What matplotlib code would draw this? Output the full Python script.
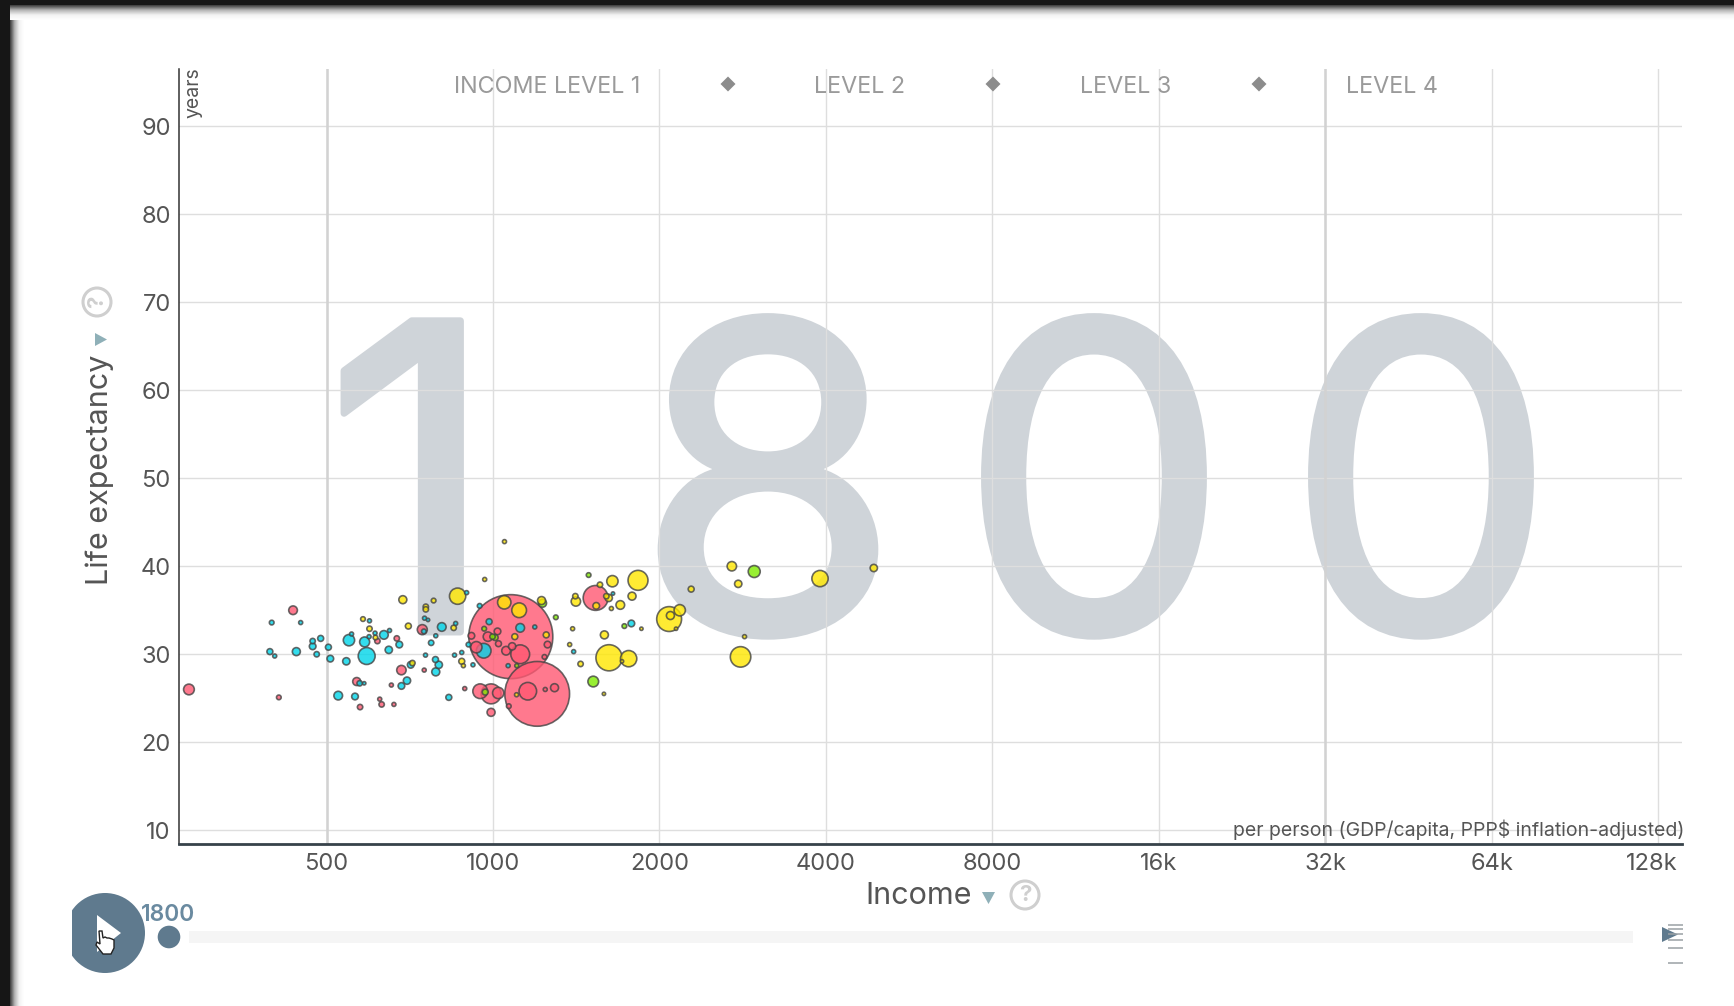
import numpy as np
import matplotlib
matplotlib.use('Agg')
import matplotlib.pyplot as plt
import matplotlib.patheffects as pe
from matplotlib.patches import Circle, Polygon, Rectangle
from matplotlib.ticker import FixedLocator, FixedFormatter, NullLocator
from matplotlib.transforms import ScaledTranslation

plt.rcParams['font.family'] = ['Inter', 'DejaVu Sans']

# ---------- data ----------
year = "1800"
x_ticks = [500, 1000, 2000, 4000, 8000, 16000, 32000, 64000, 128000]
x_labels = ['500', '1000', '2000', '4000', '8000', '16k', '32k', '64k', '128k']
y_ticks = [10, 20, 30, 40, 50, 60, 70, 80, 90]
level_labels = ['INCOME LEVEL 1', 'LEVEL 2', 'LEVEL 3', 'LEVEL 4']

red_income = [282,435,410,745,670,618,683,567,575,629,662,624,655,751,889,1077,1202,933,1120,1056,1083,1023,1019,979,914,1255,1239,948,992,1022,992,1156,1292,1243,1068,1533]
red_life = [26.0,35.0,25.1,32.8,31.8,31.5,28.2,26.9,24.0,24.3,24.3,24.9,26.5,28.2,26.1,32.0,25.5,30.8,30.0,30.4,30.9,31.2,32.6,32.0,32.1,31.1,29.7,25.8,25.5,25.6,23.4,25.8,26.2,26.0,24.1,36.4]
red_pop = [5.2,3.4,0.99,4.5,1.3,1.3,4,2.9,1.3,1.3,0.73,0.73,0.73,0.73,0.73,320,190,5.8,16,3.4,2.4,1.6,2,4,2,2,0.99,9.8,18,5.8,2.9,14,2.9,0.73,0.99,28]

yellow_income = [863,687,781,756,756,582,598,703,849,1048,1115,1224,1095,1248,878,884,613,715,1103,1412,1409,1644,1829,1561,1603,1619,1537,1784,1699,1590,1621,1759,1440,2082,2176,2093,2282,2703,2776,2803,3902,4881,1049,966,1637,1393,1376,1855,2143,2850,1587,1711]
yellow_life = [36.6,36.2,36.1,35.4,35.1,34.0,32.9,33.2,33.0,35.9,35.0,36.1,32.0,32.2,29.2,28.7,31.9,29.0,25.4,36.0,36.6,38.3,38.4,37.9,36.6,36.4,35.5,36.6,35.6,32.2,29.6,29.5,28.9,34.0,35.0,34.4,37.4,40.0,38.0,29.7,38.6,39.8,42.8,38.5,35.2,32.9,31.1,32.9,32.9,32.0,25.5,29.2]
yellow_pop = [12,2.9,0.99,1.3,1.3,0.99,1.3,1.6,1.3,8.1,9.8,2.9,1.6,1.6,1.6,0.73,0.99,1.3,0.73,4,1.3,5.8,18,1.3,1.3,2.4,2,2.9,3.4,2.9,31,12,1.3,28,5.8,2.9,1.6,4,2.4,19,12,2.4,0.73,0.73,0.73,0.73,0.73,0.5,0.5,0.73,0.5,0.5]

green_income = [2967,1518,1728,1489,1299,998,1009,964,1104,968,1229]
green_life = [39.4,26.9,33.2,39.0,34.2,32.0,31.9,32.9,28.7,25.7,35.8]
green_pop = [6.5,5.2,0.99,0.99,0.99,1.3,1.6,0.99,0.73,1.6,2.9]

cyan_income = [398,449,395,403,441,472,472,488,480,504,508,543,549,586,591,648,635,650,597,612,555,598,677,773,788,808,752,763,750,787,798,788,710,699,683,574,585,525,563,832,852,878,920,755,903,946,896,856,962,984,1120,1065,1190,1779,1648,1399]
cyan_life = [33.6,33.6,30.3,29.8,30.3,31.5,30.9,31.8,30.0,30.8,29.5,29.2,31.6,31.4,29.8,30.5,32.2,32.7,32.0,32.4,32.3,33.8,31.1,31.3,32.1,33.1,34.1,33.9,32.6,29.4,28.8,28.0,28.8,27.0,26.4,26.7,26.7,25.3,25.2,25.1,29.9,30.2,28.8,29.9,31.1,35.5,37.0,33.5,30.4,33.7,33.0,28.7,33.1,33.5,36.9,30.3]
cyan_pop = [0.99,0.73,1.6,0.73,2.9,1.3,2,1.6,1.3,1.6,2,2.4,5.8,4.5,13,2.4,3.4,0.73,0.73,0.73,0.73,0.73,2,1.3,0.73,3.4,0.73,0.5,0.99,1.6,2.4,2.9,2,2.4,2,1.3,0.5,3.4,2,1.6,0.73,0.73,0.73,0.73,0.99,0.99,0.73,0.73,9.8,1.6,3.4,0.73,0.73,2,0.5,0.73]

# ---------- figure ----------
W, H = 1734, 1006
fig = plt.figure(figsize=(W / 100, H / 100), dpi=100, facecolor='white')

pg = fig.add_axes([0, 0, 1, 1], zorder=5)
pg.set_xlim(0, W); pg.set_ylim(H, 0); pg.axis('off'); pg.patch.set_alpha(0)

L, R, T, B = 178.5, 1682, 69, 844
ax = fig.add_axes([L / W, 1 - B / H, (R - L) / W, (B - T) / H], zorder=2)
ax.set_xscale('log', base=2)
ax.set_xlim(270, 141200)
ax.set_ylim(8.44, 96.5)
ax.patch.set_alpha(0)
ax.xaxis.set_major_locator(FixedLocator(x_ticks))
ax.xaxis.set_major_formatter(FixedFormatter(x_labels))
ax.xaxis.set_minor_locator(NullLocator())
ax.set_yticks(y_ticks)
ax.tick_params(length=0, labelsize=17, labelcolor='#555555')
ax.tick_params(axis='x', pad=6.5)
ax.tick_params(axis='y', pad=5.6)
for s in ('top', 'right'):
    ax.spines[s].set_visible(False)
ax.spines['left'].set_color('#333333'); ax.spines['left'].set_linewidth(1.1)
ax.spines['bottom'].set_color('#37424a'); ax.spines['bottom'].set_linewidth(2)
ax.set_axisbelow(True)
ax.grid(True, color='#dedede', lw=1.0)
for v in (500, 32000):
    ax.axvline(v, color='#d2d2d2', lw=1.8, zorder=0.6)
labs = ax.get_xticklabels()
labs[-1].set_ha('right')
labs[-1].set_transform(labs[-1].get_transform() + ScaledTranslation(13.5 / 72, 0, fig.dpi_scale_trans))

# big year
for ch, px in zip(year, [411, 768, 1094, 1421]):
    fig.text(px / W, 1 - 476 / H, ch, fontsize=308, color='#cfd4d9', ha='center',
             va='center_baseline', family='Inter', zorder=1,
             path_effects=[pe.withStroke(linewidth=5, foreground='#cfd4d9', capstyle='round', joinstyle='round')])

# bubbles
def radius_pts(pop):
    return 42 * np.sqrt(np.asarray(pop, float) / 320) * 0.72

groups = [(red_income, red_life, red_pop, '#ff5872'),
          (yellow_income, yellow_life, yellow_pop, '#ffe700'),
          (green_income, green_life, green_pop, '#7feb00'),
          (cyan_income, cyan_life, cyan_pop, '#00d5e9')]
xs = np.concatenate([g[0] for g in groups])
ys = np.concatenate([g[1] for g in groups])
ps = np.concatenate([g[2] for g in groups], dtype=float)
cs = sum(([g[3]] * len(g[0]) for g in groups), [])
order = np.argsort(-ps)
ax.scatter(xs[order], ys[order], s=(2 * radius_pts(ps[order])) ** 2,
           c=[cs[i] for i in order], alpha=0.8, edgecolors='#444444',
           linewidths=1.2, zorder=3)

# axis texts
tc = '#555555'
pg.text(193, 93, 'years', rotation=90, ha='center', va='center', fontsize=14, color=tc)
pg.text(1684, 830, 'per person (GDP/capita, PPP$ inflation-adjusted)', ha='right', va='center',
        fontsize=14, color=tc)
pg.text(919, 896, 'Income', ha='center', va='center', fontsize=22, color=tc)
pg.add_patch(Polygon([(982, 892), (995, 892), (988.5, 904)], color='#8fb0b8', lw=0))
pg.add_patch(Circle((1025, 895), 14, fill=False, ec='#cfcfcf', lw=2.2))
pg.text(1025, 895, '?', ha='center', va='center', fontsize=16, color='#cfcfcf', weight='bold')
pg.text(100, 470, 'Life expectancy', rotation=90, ha='center', va='center', fontsize=22, color=tc)
pg.add_patch(Polygon([(95, 333), (95, 346), (107, 339.5)], color='#8fb0b8', lw=0))
pg.add_patch(Circle((97, 302), 14, fill=False, ec='#cfcfcf', lw=2.2))
pg.text(97, 302, '?', rotation=90, ha='center', va='center', fontsize=16, color='#cfcfcf', weight='bold')

# income level strip
for lab, px in zip(level_labels, [547, 860, 1126, 1392]):
    pg.text(px, 87, lab, ha='center', va='center', fontsize=16.8, color='#9a9a9a')
for px in (728, 993, 1259):
    pg.add_patch(Polygon([(px - 7.5, 84), (px, 76.5), (px + 7.5, 84), (px, 91.5)], color='#8c8c8c', lw=0))

# play control
play = Circle((105, 933), 40, color='#5f7a8e', lw=0)
pg.add_patch(play)
play.set_clip_path(Rectangle((72, 880), 90, 110, transform=pg.transData))
pg.add_patch(Polygon([(97, 915), (121, 933), (97, 952)], color='white', lw=0))
hand = [(99, 931), (102, 931), (103, 938), (105, 937), (107, 938), (109, 938), (112, 939), (114, 940),
        (114, 948), (111, 954), (103, 954), (96, 945), (97, 942), (100, 944)]
pg.add_patch(Polygon(hand, fc='white', ec='#222222', lw=1.0))
pg.text(168, 915, year, ha='center', va='center', fontsize=16.5, color='#6a8aa0', weight='semibold')
pg.add_patch(Circle((169, 937), 11.3, color='#5f7a8e', lw=0))
pg.add_patch(Rectangle((189, 931), 1444, 12, color='#f5f5f5', lw=0))
for yy in (925, 929, 934, 940, 948, 963):
    pg.plot([1668, 1683], [yy, yy], color='#9aa0a4', lw=1.1, solid_capstyle='butt')
pg.add_patch(Polygon([(1662, 927), (1678, 934.5), (1662, 942)], color='#5f7a8e', lw=0))

# dark frame with soft shadow
fade = np.linspace(0, 1, 64)
shadow = matplotlib.colors.LinearSegmentedColormap.from_list('sh', ['#3a3a3a', '#b4b4b4', '#f2f2f2', '#ffffff'])
pg.imshow(fade[None, :], extent=(10, 24, H, 0), cmap=shadow, aspect='auto', zorder=1)
pg.imshow(fade[:, None], extent=(10, W, 20, 5), cmap=shadow, aspect='auto', zorder=1, origin='upper')
pg.add_patch(Rectangle((0, 0), 10, H, color='#161616', lw=0, zorder=2))
pg.add_patch(Rectangle((0, 0), W, 5, color='#161616', lw=0, zorder=2))
pg.set_xlim(0, W); pg.set_ylim(H, 0)

fig.savefig('out.png', dpi=100)
